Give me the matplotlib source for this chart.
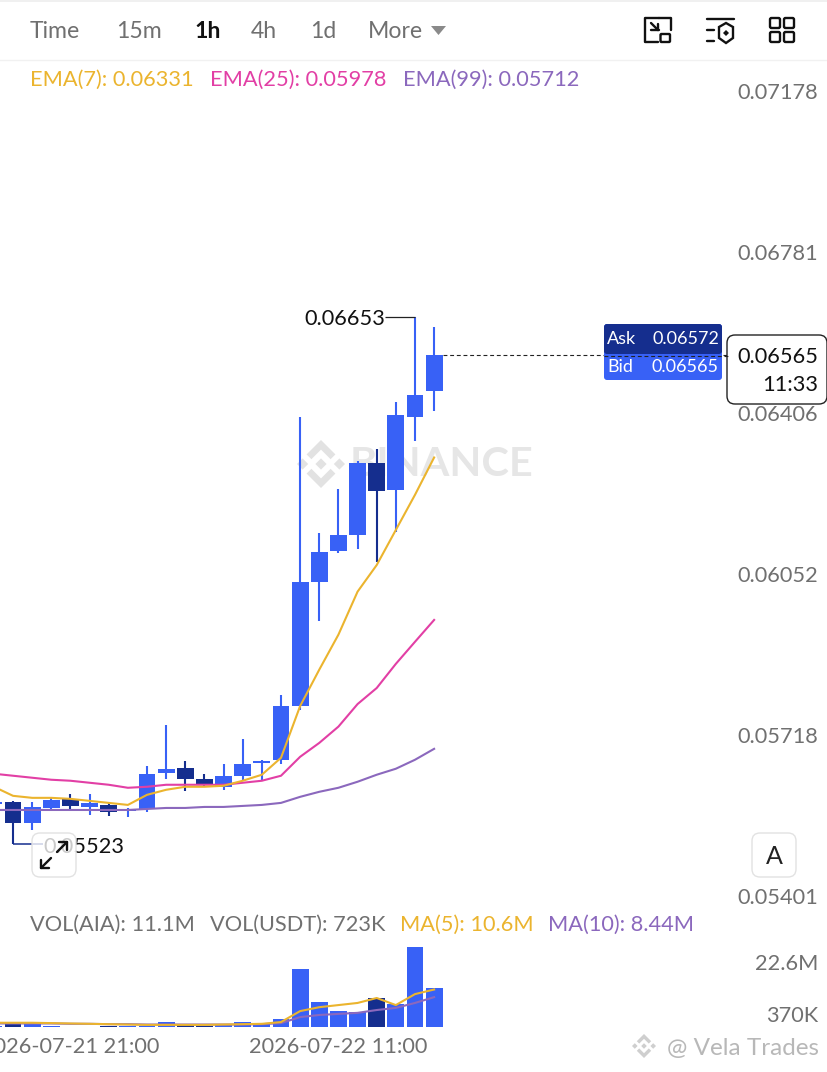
import numpy as np
import matplotlib
matplotlib.use("Agg")
import matplotlib.pyplot as plt
from matplotlib.patches import FancyBboxPatch, Rectangle, Polygon
from matplotlib.ticker import NullLocator
from matplotlib.transforms import ScaledTranslation

plt.rcParams['font.family'] = ['Lato', 'DejaVu Sans']

# ---------- data (first candle is partly off the left edge) ----------
opens = [.05602,.05606,.05564,.05594,.05612,.05596,.05600,.05588,.05592,.05664,.05674,.05652,.05636,.05658,.05684,.05690,.05799,.06059,.06126,.06160,.06319,.06259,.06422,.06481]
closes = [.05606,.05564,.05596,.05610,.05598,.05604,.05586,.05592,.05662,.05672,.05652,.05642,.05658,.05682,.05688,.05799,.06059,.06123,.06160,.06319,.06257,.06427,.06472,.06565]
highs = [.05608,.05608,.05606,.05616,.05622,.05622,.05606,.05594,.05678,.05760,.05688,.05662,.05682,.05732,.05690,.05821,.06422,.06165,.06261,.06323,.06350,.06456,.06653,.06630]
lows = [.05598,.05523,.05550,.05588,.05592,.05580,.05578,.05576,.05586,.05652,.05628,.05636,.05630,.05650,.05650,.05682,.05791,.05976,.06121,.06130,.06102,.06167,.06368,.06436]
ema7 = [.05636,.05618,.05614,.05614,.05612,.05608,.05604,.05600,.05620,.05630,.05636,.05636,.05638,.05648,.05660,.05694,.05799,.05874,.05947,.06038,.06095,.06171,.06248,.06331]
ema25 = [.05662,.05658,.05654,.05650,.05648,.05644,.05640,.05634,.05636,.05640,.05640,.05640,.05640,.05644,.05648,.05658,.05696,.05724,.05757,.05803,.05836,.05886,.05932,.05978]
ema99 = [.05590,.05590,.05590,.05590,.05590,.05590,.05590,.05590,.05592,.05594,.05594,.05596,.05596,.05598,.05600,.05604,.05616,.05626,.05634,.05646,.05660,.05672,.05690,.05712]
volume = [.4,.75,.75,.15,.12,.1,.3,.15,.25,1.3,.8,.3,.5,1.4,.8,2.3,16.4,7.1,4.5,4.2,8.2,6.5,22.6,11.1]
ma5 = [1.2,1.2,1.2,1.1,1.0,.9,.8,.7,.6,.6,.6,.6,.7,.8,.9,1.4,4.5,5.6,6.2,6.8,8.2,6.2,9.3,10.6]
ma10 = [1.0,1.0,1.0,1.0,.9,.9,.8,.8,.7,.7,.7,.7,.7,.7,.8,1.1,2.8,3.4,3.7,4.0,4.8,5.4,6.8,8.44]
price_ticks = [.07178,.06781,.06406,.06052,.05718,.05401]
price_labels = ['0.07178','0.06781','0.06406','0.06052','0.05718','0.05401']
vol_ticks = [22.6,.37]
vol_labels = ['22.6M','370K']
date_ticks = [4,18]
date_labels = ['2026-07-21 21:00','2026-07-22 11:00']
last_price = .06565
max_price, min_price = .06653, .05523

UP, DOWN = '#3861f6', '#152e8e'
YEL, PINK, PUR = '#ebb42e', '#e23fa5', '#8b68bd'
GREY = '#707070'
FS = 15.7

W, H = 828, 1072
fig = plt.figure(figsize=(W/100, H/100), dpi=100, facecolor='white')
def rect(x0, y0, x1, y1):
    return [x0/W, 1-y1/H, (x1-x0)/W, (y1-y0)/H]

def overlay(z):
    a = fig.add_axes([0, 0, 1, 1], zorder=z)
    a.set_xlim(0, W); a.set_ylim(H, 0); a.axis('off'); a.patch.set_alpha(0)
    return a

back = overlay(0)
top = overlay(5)

ax = fig.add_axes(rect(0, 60, W, 910), zorder=1)
vx = fig.add_axes(rect(0, 940, W, 1027), zorder=1)
step = 19.14
# index 0 is the partial candle centred just off the left edge
xlim = (6.1/step, (W+6.1)/step)
idx = np.arange(len(opens))
opens, closes, highs, lows = map(np.array, (opens, closes, highs, lows))
cols = [UP if c >= o else DOWN for o, c in zip(opens, closes)]

for a in (ax, vx):
    a.set_xlim(*xlim)
    a.patch.set_alpha(0)
    for s in a.spines.values():
        s.set_visible(False)

ax.set_yscale('log')
ax.set_ylim(.05396, .07285)
ax.vlines(idx, lows, highs, colors=cols, lw=1.5, zorder=2)
ax.bar(idx, np.abs(closes-opens), bottom=np.minimum(opens, closes), width=.88, color=cols, zorder=3)
ax.plot(idx, ema99, color=PUR, lw=1.5, zorder=4)
ax.plot(idx, ema25, color=PINK, lw=1.5, zorder=4)
ax.plot(idx, ema7, color=YEL, lw=1.5, zorder=4)
ax.hlines(last_price, idx[-1]+.45, 38.5, colors='#222222', lw=.8, linestyles=(0, (3.5, 2.5)), zorder=2)

ax.set_xticks([])
ax.yaxis.tick_right()
ax.set_yticks(price_ticks)
ax.set_yticklabels(price_labels)
ax.yaxis.set_minor_locator(NullLocator())
ax.tick_params(axis='y', which='major', length=0, pad=-7.2, labelsize=FS, labelcolor=GREY)
off = ScaledTranslation(0, 11/100, fig.dpi_scale_trans)
for t in ax.yaxis.get_major_ticks():
    t.label2.set_ha('right')
    t.label2.set_transform(t.label2.get_transform() + off)

# high / low annotations
ax.hlines(max_price, idx[22]-30/step, idx[22], colors='#222222', lw=.9, zorder=2)
ax.annotate('0.06653', xy=(idx[22], max_price), xytext=(-30, -2), textcoords='offset pixels',
            ha='right', va='center', fontsize=FS, color='#111111')
ax.hlines(min_price, idx[1], idx[1]+30/step, colors=DOWN, lw=1.1, zorder=2)
ax.annotate('0.05523', xy=(idx[1], min_price), xytext=(30, -3), textcoords='offset pixels',
            ha='left', va='center', fontsize=FS, color='#111111')

# volume
vx.set_ylim(0, 24.6)
vx.bar(idx, volume, width=.88, color=cols, zorder=2)
vx.plot(idx, ma10, color=PUR, lw=1.5, zorder=3)
vx.plot(idx, ma5, color=YEL, lw=1.5, zorder=3)
vx.yaxis.tick_right()
vx.set_yticks(vol_ticks)
vx.set_yticklabels(vol_labels)
vx.tick_params(axis='y', length=0, pad=-7.2, labelsize=FS, labelcolor=GREY)
for t, dy in zip(vx.yaxis.get_major_ticks(), (-15, 12)):
    t.label2.set_ha('right')
    t.label2.set_transform(t.label2.get_transform() + ScaledTranslation(0, dy/100, fig.dpi_scale_trans))
vx.set_xticks(date_ticks)
vx.set_xticklabels(date_labels)
vx.tick_params(axis='x', length=0, pad=7.5, labelsize=FS, labelcolor=GREY)

# ---------- background watermark ----------
def binance_logo(a, cx, cy, r, color):
    u = r/6.0
    def d(pts):
        a.add_patch(Polygon([(cx+p*u, cy+q*u) for p, q in pts], closed=True, fc=color, ec='none'))
    d([(0,-1.4),(1.4,0),(0,1.4),(-1.4,0)])
    d([(-6,0),(-4.6,-1.4),(-3.2,0),(-4.6,1.4)])
    d([(6,0),(4.6,-1.4),(3.2,0),(4.6,1.4)])
    d([(0,-6),(3.6,-2.4),(2.4,-1.2),(0,-3.6),(-2.4,-1.2),(-3.6,-2.4)])
    d([(0,6),(3.6,2.4),(2.4,1.2),(0,3.6),(-2.4,1.2),(-3.6,2.4)])

binance_logo(back, 321, 464, 24, '#e2e2e2')
back.text(350, 464, 'BINANCE', fontsize=29.8, fontweight='bold', color='#e6e6e6', va='center', ha='left')

# ---------- header ----------
top.add_patch(Rectangle((0, 0), W, 2, fc='#f0f0f0', ec='none'))
top.plot([0, W], [60, 60], color='#f1f1f1', lw=1)
for s, x, c, w in [('Time', 30, GREY, 'normal'), ('15m', 116, GREY, 'normal'), ('1h', 194, '#111111', 'bold'),
                   ('4h', 251, GREY, 'normal'), ('1d', 310, GREY, 'normal'), ('More', 368, GREY, 'normal')]:
    top.text(x, 32, s, fontsize=16.6, color=c, fontweight=w, va='center', ha='left')
top.add_patch(Polygon([(431, 26), (446, 26), (438.5, 35)], closed=True, fc='#8a8a8a', ec='none'))

ic = dict(color='#111111', lw=1.7, solid_capstyle='round', solid_joinstyle='round')
top.plot([658, 645.5, 645.5, 659], [42, 42, 18, 18], **ic)
top.plot([659, 671, 671], [18, 18, 30], **ic)
top.add_patch(FancyBboxPatch((660.5, 34), 9.5, 8, boxstyle='round,pad=0,rounding_size=1', fc='none', ec='#111111', lw=1.7))
top.plot([651, 658], [23, 30], **ic); top.plot([651.5, 659], [30, 30], **ic); top.plot([658, 658], [30, 24], **ic)
top.plot([707, 734], [19, 19], **ic)
top.plot([707, 714], [30, 30], **ic); top.plot([707, 714], [41, 41], **ic)
top.add_patch(Polygon([(726,23),(733,27),(733,38),(726,43),(719,38),(719,27)], closed=True, fc='none', ec='#111111', lw=1.7))
top.add_patch(Polygon([(726,30),(729,33),(726,36),(723,33)], closed=True, fc='#111111', ec='none'))
for bx, by in [(770, 18), (784, 18), (770, 32), (784, 32)]:
    top.add_patch(FancyBboxPatch((bx, by), 10, 10, boxstyle='round,pad=0,rounding_size=1.5', fc='none', ec='#111111', lw=1.7))

# ---------- legends ----------
for s, x, c in [('EMA(7): 0.06331', 30, YEL), ('EMA(25): 0.05978', 210, PINK), ('EMA(99): 0.05712', 403, PUR)]:
    top.text(x, 80, s, fontsize=FS, color=c, va='center', ha='left')
for s, x, c in [('VOL(AIA): 11.1M', 30, GREY), ('VOL(USDT): 723K', 210, GREY), ('MA(5): 10.6M', 400, YEL), ('MA(10): 8.44M', 548, PUR)]:
    top.text(x, 925, s, fontsize=FS, color=c, va='center', ha='left')

# ---------- ask / bid + price box ----------
top.add_patch(FancyBboxPatch((604, 324), 118, 56, boxstyle='round,pad=0,rounding_size=3', fc=UP, ec='none'))
top.add_patch(FancyBboxPatch((604, 324), 118, 30, boxstyle='round,pad=0,rounding_size=3', fc=DOWN, ec='none'))
top.add_patch(Rectangle((604, 348), 118, 4, fc=DOWN, ec='none'))
top.plot([604, 728], [356, 356], color='#222222', lw=.8, ls=(0, (3.5, 2.5)))
for s, x, y, ha in [('Ask', 607, 338.5, 'left'), ('0.06572', 719, 338.5, 'right'), ('Bid', 607, 366.5, 'left'), ('0.06565', 719, 366.5, 'right')]:
    top.text(x, y, s, fontsize=13, color='white', va='center', ha=ha)
top.add_patch(FancyBboxPatch((727, 335), 100, 69, boxstyle='round,pad=0,rounding_size=8', fc='white', ec='#222222', lw=1))
top.text(818, 357, '0.06565', fontsize=FS, color='#111111', va='center', ha='right')
top.text(818, 385, '11:33', fontsize=FS, color='#111111', va='center', ha='right')

# ---------- buttons ----------
top.add_patch(FancyBboxPatch((32, 833), 44, 44, boxstyle='round,pad=0,rounding_size=8', fc=(1, 1, 1, .78), ec='#e2e2e2', lw=1))
top.plot([57, 67], [852, 842], **ic); top.plot([59, 67, 67], [842, 842, 850], **ic)
top.plot([51, 41], [858, 868], **ic); top.plot([41, 41, 49], [860, 868, 868], **ic)
top.add_patch(FancyBboxPatch((752, 833), 44, 44, boxstyle='round,pad=0,rounding_size=8', fc='white', ec='#e2e2e2', lw=1))
top.text(774, 857, 'A', fontsize=18, color='#222222', va='center', ha='center')

# ---------- footer watermark ----------
binance_logo(top, 644, 1046, 12, '#cfcfcf')
top.text(667, 1048, '@ Vela Trades', fontsize=17.5, color='#b8b8b8', va='center', ha='left')

fig.savefig('out.png', dpi=100, facecolor='white')
